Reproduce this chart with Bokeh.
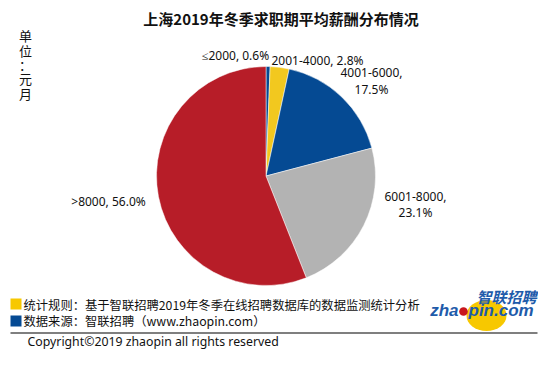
import math
from bokeh.plotting import figure
from bokeh.models import Range1d, ColumnDataSource
from bokeh.core.properties import value
from bokeh.embed import file_html
from bokeh.resources import INLINE

# ---- data ----
categories = ["≤2000", "2001-4000", "4001-6000", "6001-8000", ">8000"]
shares = [0.6, 2.8, 17.5, 23.1, 56.0]
colors = ["#054A93", "#F2C81F", "#054A93", "#B3B3B3", "#B71D28"]
title_text = "上海2019年冬季求职期平均薪酬分布情况"
unit_chars = ["单", "位", "：", "元", "月"]
note_rule = "统计规则：基于智联招聘2019年冬季在线招聘数据库的数据监测统计分析"
note_source = "数据来源：智联招聘（www.zhaopin.com）"
copyright_text = "Copyright©2019 zhaopin all rights reserved"

# ---- layout (picture pixel coordinates; y is negated so screen-down = data-down) ----
W, H = 538, 350
CX, CY, R = 265.5, 175.5, 109.5
# label anchor positions (x, y, two-line?)
label_layout = [(235, 55, False), (317, 60, False), (371, 80.5, True),
                (415, 204, True), (108, 201, False)]
unit_y = [35, 50, 64, 78, 93]
FOOT = -7  # vertical nudge of the footer block so it fits the canvas
LOGO_DX = -6

p = figure(width=W, height=H, output_backend="svg", toolbar_location=None,
           x_range=Range1d(0, W), y_range=Range1d(-H, 0),
           min_border=0, background_fill_color="white", border_fill_color="white")
p.axis.visible = False
p.grid.visible = False
p.outline_line_color = None

# pie wedges, clockwise from 12 o'clock
total = sum(shares)
starts, ends = [], []
cum = 0.0
for s in shares:
    starts.append(math.pi / 2 - 2 * math.pi * cum / total)
    cum += s
    ends.append(math.pi / 2 - 2 * math.pi * cum / total)
src = ColumnDataSource(dict(x=[CX] * len(shares), y=[-CY] * len(shares),
                            start=starts, end=ends, color=colors))
p.wedge(x="x", y="y", radius=R, start_angle="start", end_angle="end",
        direction="clock", fill_color="color", line_color="white",
        line_width=0.5, source=src)

# pie labels
lx, ly, lt = [], [], []
for cat, s, (x, y, two) in zip(categories, shares, label_layout):
    sep = ",\n" if two else ", "
    lt.append(f"{cat}{sep}{s:.1f}%")
    lx.append(x)
    ly.append(-y)
p.text(x=lx, y=ly, text=lt, text_align="center", text_baseline="middle",
       text_font=value("Noto Sans"), text_font_size="12px", text_color="#111111",
       text_line_height=0.95)

# title
p.text(x=[280.5], y=[-18], text=[title_text], text_align="center", text_baseline="middle",
       text_font=value("Noto Sans CJK SC"), text_font_style="bold",
       text_font_size="15px", text_color="#111111")

# unit (vertical, one character per row)
p.text(x=[25] * len(unit_chars), y=[-v for v in unit_y], text=unit_chars,
       text_align="center", text_baseline="middle",
       text_font=value("Noto Sans CJK SC"), text_font_size="13px", text_color="#111111")

# footer notes with coloured squares
p.rect(x=[15.5, 15.5], y=[-(310.5 + FOOT), -(327.5 + FOOT)], width=11, height=11,
       fill_color=["#F7C800", "#054A93"], line_color=None)
p.text(x=[23, 23], y=[-(311 + FOOT), -(327 + FOOT)], text=[note_rule, note_source],
       text_align="left", text_baseline="middle", text_font=value("Noto Sans CJK SC"),
       text_font_size="12.3px", text_color="#111111")

# separator line
p.line(x=[10, 537], y=[-(339.5 + FOOT), -(339.5 + FOOT)], line_color="#000000",
       line_width=1.2)

# copyright
p.text(x=[27], y=[-340.5], text=[copyright_text], text_align="left",
       text_baseline="middle", text_font=value("Noto Sans"),
       text_font_size="12.3px", text_color="#111111")

# logo
p.ellipse(x=[492 + LOGO_DX], y=[-(322 + FOOT)], width=40, height=31,
          fill_color="#F7C800", line_color=None)
p.text(x=[542 + LOGO_DX], y=[-(303 + FOOT)], text=["智联招聘"], text_align="right",
       text_baseline="middle", text_font=value("Noto Sans CJK SC"),
       text_font_style="bold italic", text_font_size="15px", text_color="#1E5BAA")
p.text(x=[464 + LOGO_DX], y=[-(317 + FOOT)], text=["zha"], text_align="right",
       text_baseline="middle", text_font=value("Liberation Sans"),
       text_font_style="bold italic", text_font_size="17px", text_color="#1E5BAA")
p.circle(x=[469 + LOGO_DX], y=[-(318 + FOOT)], radius=4.3, fill_color="#C8161D",
         line_color=None)
p.text(x=[474 + LOGO_DX], y=[-(317 + FOOT)], text=["pin.com"], text_align="left",
       text_baseline="middle", text_font=value("Liberation Sans"),
       text_font_style="bold italic", text_font_size="17px", text_color="#1E5BAA")

open("out.html", "w").write(file_html(p, INLINE))
